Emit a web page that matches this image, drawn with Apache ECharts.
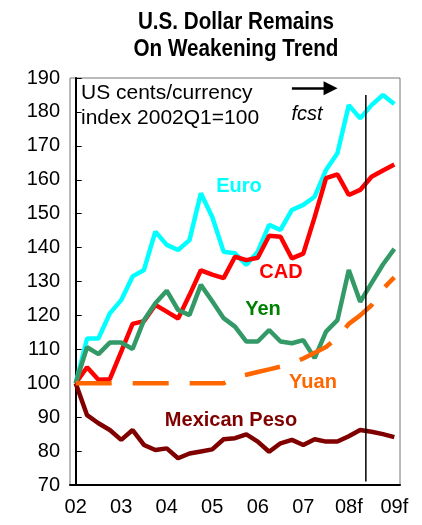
<!DOCTYPE html>
<html>
<head>
<meta charset="utf-8">
<script src="https://cdn.jsdelivr.net/npm/echarts@6/dist/echarts.min.js"></script>
<style>
  html, body { margin: 0; padding: 0; background: #fff; }
  #main { width: 422px; height: 525px; }
</style>
</head>
<body>
<div id="main"></div>
<script>
// quarterly index, 2002Q1 = 100 (08Q3 onward is forecast)
var quarters = [
  '02Q1', '02Q2', '02Q3', '02Q4', '03Q1', '03Q2', '03Q3', '03Q4',
  '04Q1', '04Q2', '04Q3', '04Q4', '05Q1', '05Q2', '05Q3', '05Q4',
  '06Q1', '06Q2', '06Q3', '06Q4', '07Q1', '07Q2', '07Q3', '07Q4',
  '08Q1', '08Q2', '08Q3', '08Q4', '09Q1'
];
var yearLabels = ['02', '03', '04', '05', '06', '07', '08f', '09f'];

var euro = [100, 113.2, 113.2, 120.6, 124.5, 131.5, 133.4, 144.7, 140.8, 139.3, 142.2, 156, 149, 138.8,
  138.3, 134.9, 138.8, 146.7, 145.2, 151.1, 152.6, 155, 162.9, 167.8, 182, 178.1, 182, 185, 182.3];
var cad = [100, 104.7, 101, 101.2, 109.3, 117.5, 118.3, 123.1, 121.1, 119.1, 126, 133.3, 132, 131,
  137.3, 136.3, 137, 143.5, 143.2, 136.8, 138.2, 149, 160.5, 161.6, 155.5, 157, 160.9, 162.7, 164.5];
var yen = [100, 110.6, 108.6, 112, 112, 110.1, 118.6, 123.6, 127.3, 121.6, 120.1, 129, 124.2, 119.2,
  116.7, 112.3, 112.3, 115.7, 112.3, 111.8, 112.7, 107.4, 115.2, 118.6, 133.4, 124, 129.5, 135, 139.6];
var yuan = [100, 100, 100, 100, 100, 100, 100, 100, 100, 100, 100, 100, 100, 100,
  101.8, 102.5, 103.3, 104.1, 104.9, 105.8, 107.3, 109, 110.7, 113.5, 117.5, 120, 123, 127.8, 131.2];
var peso = [100, 90.6, 88.2, 86.2, 83.3, 86.2, 81.8, 80.3, 80.8, 77.9, 79.3, 79.9, 80.5, 83.5,
  83.8, 84.9, 82.8, 79.8, 82.3, 83.3, 81.8, 83.5, 82.8, 82.8, 84.4, 86.2, 85.7, 85, 84.1];

var fcstAt = 25.5; // between 08Q2 and 08Q3

(function() {
  var chartDom = document.getElementById('main');
  var myChart = echarts.init(chartDom);
  var option;

  var font = 'Liberation Sans, Arial, sans-serif';

  function curve(name, data, color, dashed) {
    return {
      name: name,
      type: 'line',
      data: data,
      symbol: 'none',
      silent: true,
      lineStyle: {
        color: color,
        width: 4.5,
        type: dashed ? [36, 21] : 'solid',
        cap: 'butt'
      }
    };
  }

  function tag(text, x, y, color) {
    return {
      type: 'text',
      style: {
        x: x, y: y, text: text, fill: color,
        font: 'bold 20px ' + font,
        align: 'center', verticalAlign: 'middle'
      }
    };
  }

  option = {
    animation: false,
    grid: {
      left: 70, right: 22, top: 78, bottom: 40,
      show: true,
      borderColor: '#777',
      borderWidth: 1
    },
    xAxis: [
      {
        type: 'category',
        data: quarters,
        boundaryGap: true,
        axisLine: { lineStyle: { color: '#000', width: 2 } },
        axisTick: { inside: true, length: 6, interval: 3, lineStyle: { color: '#000' } },
        axisLabel: {
          interval: 3,
          color: '#000',
          fontSize: 20,
          fontFamily: font,
          margin: 12,
          formatter: function(v, i) { return yearLabels[i / 4]; }
        },
        splitLine: { show: false }
      },
      {
        type: 'value',
        min: -0.5,
        max: quarters.length - 0.5,
        show: false
      }
    ],
    yAxis: {
      type: 'value',
      min: 70,
      max: 190,
      interval: 10,
      axisLine: { show: true, lineStyle: { color: '#000', width: 2 } },
      axisTick: { show: true, inside: true, length: 6, lineStyle: { color: '#000' } },
      axisLabel: { color: '#000', fontSize: 20, fontFamily: font, margin: 10 },
      splitLine: { show: false }
    },
    series: [
      curve('Euro', euro, '#00FFFF'),
      curve('CAD', cad, '#FF0000'),
      curve('Yen', yen, '#339966'),
      curve('Mexican Peso', peso, '#800000'),
      curve('Yuan', yuan, '#FF6600', true),
      {
        name: 'fcst',
        type: 'line',
        xAxisIndex: 1,
        symbol: 'none',
        silent: true,
        data: [[fcstAt, 185], [fcstAt, 71]],
        lineStyle: { color: '#000', width: 1.5 },
        markLine: {
          silent: true,
          symbol: ['none', 'triangle'],
          symbolSize: [14, 14],
          label: { show: false },
          lineStyle: { color: '#000', width: 2.5, type: 'solid' },
          data: [[{ coord: [19, 187] }, { coord: [22.4, 187] }]]
        }
      }
    ],
    graphic: [
      {
        type: 'text',
        x: 236, y: 36,
        scaleX: 0.86,
        style: {
          x: 0, y: 0,
          text: 'U.S. Dollar Remains\nOn Weakening Trend',
          fill: '#000',
          font: 'bold 24px ' + font,
          lineHeight: 27,
          align: 'center', verticalAlign: 'middle'
        }
      },
      {
        type: 'text',
        style: {
          x: 81, y: 106,
          text: 'US cents/currency\nindex 2002Q1=100',
          fill: '#000',
          font: '21px ' + font,
          lineHeight: 25,
          align: 'left', verticalAlign: 'middle'
        }
      },
      {
        type: 'text',
        style: {
          x: 307, y: 114, text: 'fcst', fill: '#000',
          font: 'italic 20px ' + font,
          align: 'center', verticalAlign: 'middle'
        }
      },
      tag('Euro', 239, 186, '#00FFFF'),
      tag('CAD', 281, 272, '#FF0000'),
      tag('Yen', 263, 309, '#008000'),
      tag('Yuan', 313, 382, '#FF6600'),
      tag('Mexican Peso', 231, 420, '#800000')
    ]
  };

  option && myChart.setOption(option);
  window.addEventListener('resize', function() {
    myChart.resize();
  });
})();
</script>
</body>
</html>
